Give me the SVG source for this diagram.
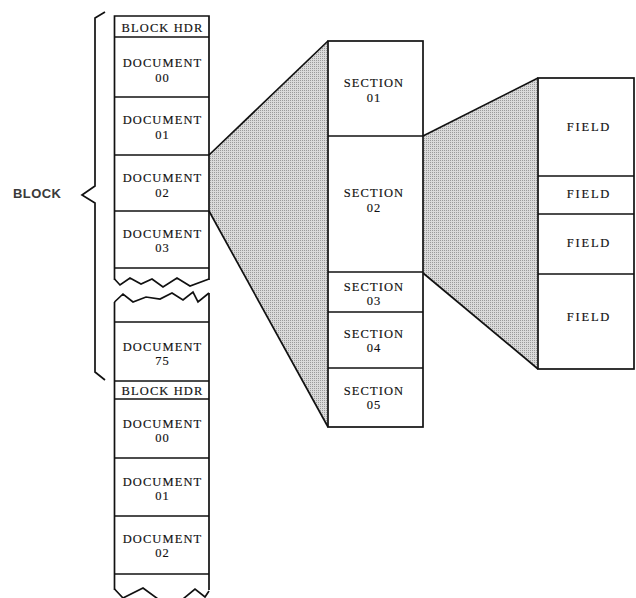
<svg xmlns="http://www.w3.org/2000/svg" width="636" height="598" viewBox="0 0 636 598">
<style>
.box{fill:#fff;stroke:#111;stroke-width:1.7}
.div{stroke:#111;stroke-width:1.3;fill:none}
.ln{stroke:#111;stroke-width:1.7;fill:none;stroke-linejoin:miter}
.t{font-family:"Liberation Serif","Times New Roman",serif;font-size:12.5px;letter-spacing:1.1px;fill:#111;stroke:#111;stroke-width:0.15px;text-anchor:middle}
.f{letter-spacing:1.8px}
.lbl{font-family:"Liberation Sans",Arial,sans-serif;font-size:13px;font-weight:bold;letter-spacing:0.4px;fill:#3a3a3a}
</style>
<defs>
<pattern id="stip" width="2" height="2" patternUnits="userSpaceOnUse">
<rect width="2" height="2" fill="#dadada"/>
<rect width="1" height="1" fill="#9a9a9a"/>
</pattern>
</defs>
<rect width="636" height="598" fill="#fff"/>

<g id="connectors">
<polygon points="209,155 328,41 328,427 209,211" fill="url(#stip)"/>
<polyline class="ln" points="209,155 328,41"/>
<polyline class="ln" points="209,211 328,427"/>
<polygon points="423,136 538,78 538,369 423,273" fill="url(#stip)"/>
<polyline class="ln" points="423,136 538,78"/>
<polyline class="ln" points="423,273 538,369"/>
</g>

<g id="brace">
<polyline class="ln" points="105,12 95,18 95,186 82,195 95,203 95,372 105,380"/>
<text class="lbl" x="13" y="198">BLOCK</text>
</g>

<g id="block1">
<path class="ln" d="M114.5,280 L114.5,16 L209,16 L209,280"/>
<polyline class="ln" points="114.5,279 120,285 130,278 141,284 152,279 163,287 177,278 190,286 209,279"/>
<line class="div" x1="114.5" y1="37" x2="209" y2="37"/>
<line class="div" x1="114.5" y1="97" x2="209" y2="97"/>
<line class="div" x1="114.5" y1="155" x2="209" y2="155"/>
<line class="div" x1="114.5" y1="211" x2="209" y2="211"/>
<line class="div" x1="114.5" y1="268" x2="209" y2="268"/>
<g id="hdr1"><text class="t" x="162.5" y="32">BLOCK HDR</text></g>
<g id="doc00a"><text class="t" x="162.5" y="66.5">DOCUMENT</text><text class="t" x="162.5" y="81.5">00</text></g>
<g id="doc01a"><text class="t" x="162.5" y="124">DOCUMENT</text><text class="t" x="162.5" y="139">01</text></g>
<g id="doc02a"><text class="t" x="162.5" y="182">DOCUMENT</text><text class="t" x="162.5" y="197">02</text></g>
<g id="doc03a"><text class="t" x="162.5" y="238">DOCUMENT</text><text class="t" x="162.5" y="252">03</text></g>
</g>

<g id="block2">
<path class="ln" d="M114.5,302 L114.5,590 M209,293 L209,590"/>
<polyline class="ln" points="114.5,302 123,294 133,302 146,297 160,299 172,293 183,300 193,292 198,302 209,293"/>
<line class="div" x1="114.5" y1="322" x2="209" y2="322"/>
<line class="div" x1="114.5" y1="381" x2="209" y2="381"/>
<line class="div" x1="114.5" y1="399" x2="209" y2="399"/>
<line class="div" x1="114.5" y1="458" x2="209" y2="458"/>
<line class="div" x1="114.5" y1="516" x2="209" y2="516"/>
<line class="div" x1="114.5" y1="574" x2="209" y2="574"/>
<polyline class="ln" points="114.5,589 123,598 143,588 158,599"/>
<polyline class="ln" points="183,599 195,589 205,597 209,591"/>
<g id="doc75"><text class="t" x="162.5" y="351">DOCUMENT</text><text class="t" x="162.5" y="365">75</text></g>
<g id="hdr2"><text class="t" x="162.5" y="395">BLOCK HDR</text></g>
<g id="doc00b"><text class="t" x="162.5" y="428">DOCUMENT</text><text class="t" x="162.5" y="442">00</text></g>
<g id="doc01b"><text class="t" x="162.5" y="486">DOCUMENT</text><text class="t" x="162.5" y="500">01</text></g>
<g id="doc02b"><text class="t" x="162.5" y="543">DOCUMENT</text><text class="t" x="162.5" y="557">02</text></g>
</g>

<g id="sections">
<rect class="box" x="328" y="41" width="95" height="386"/>
<line class="div" x1="328" y1="136" x2="423" y2="136"/>
<line class="div" x1="328" y1="272" x2="423" y2="272"/>
<line class="div" x1="328" y1="312" x2="423" y2="312"/>
<line class="div" x1="328" y1="368" x2="423" y2="368"/>
<g id="sec01"><text class="t" x="374" y="87">SECTION</text><text class="t" x="374" y="102">01</text></g>
<g id="sec02"><text class="t" x="374" y="197">SECTION</text><text class="t" x="374" y="212">02</text></g>
<g id="sec03"><text class="t" x="374" y="291">SECTION</text><text class="t" x="374" y="305">03</text></g>
<g id="sec04"><text class="t" x="374" y="338">SECTION</text><text class="t" x="374" y="352">04</text></g>
<g id="sec05"><text class="t" x="374" y="395">SECTION</text><text class="t" x="374" y="409">05</text></g>
</g>

<g id="fields">
<rect class="box" x="538" y="78" width="96" height="291"/>
<line class="div" x1="538" y1="176" x2="634" y2="176"/>
<line class="div" x1="538" y1="214" x2="634" y2="214"/>
<line class="div" x1="538" y1="274" x2="634" y2="274"/>
<g id="field1"><text class="t f" x="589" y="131">FIELD</text></g>
<g id="field2"><text class="t f" x="589" y="198">FIELD</text></g>
<g id="field3"><text class="t f" x="589" y="247">FIELD</text></g>
<g id="field4"><text class="t f" x="589" y="321">FIELD</text></g>
</g>
</svg>
